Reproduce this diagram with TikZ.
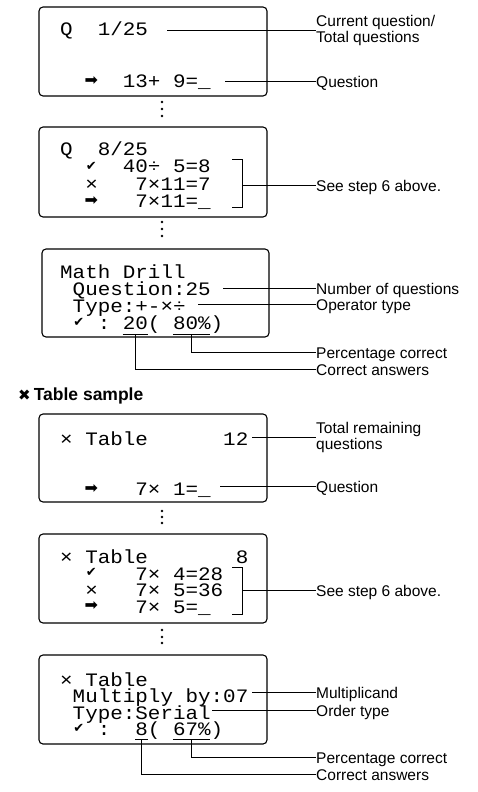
\documentclass[tikz,border=0pt]{standalone}
\usepackage{fontspec}
\setmainfont{Liberation Sans}
\newfontfamily\lcdfont[FakeStretch=1.1]{Liberation Mono}
\newfontfamily\symfont{DejaVu Sans}
\newcommand{\lcdcol}[1]{60+12.54*#1}
\tikzset{
    lcdbox/.style={draw, line width=1.1pt, rounded corners=4pt, inner sep=0pt},
    lcdtext/.style={anchor=base west, inner sep=0pt, text height=12pt, text depth=0pt,
        font=\lcdfont\fontsize{19}{19}\selectfont},
    lcdsym/.style={inner sep=0pt, text height=7pt, text depth=0pt,
        font=\symfont\fontsize{13}{13}\selectfont},
    lcdarrow/.style={inner sep=0pt, text height=7pt, text depth=0pt,
        font=\symfont\fontsize{16}{16}\selectfont},
    lbltext/.style={anchor=west, inner sep=0pt, text height=12pt, text depth=0pt,
        font=\fontsize{15.5}{16}\selectfont},
    lbltwo/.style={anchor=west, inner sep=0pt, align=left,
        font=\fontsize{15.5}{16}\selectfont},
    leader/.style={line width=0.9pt}
}

\begin{document}
\begin{tikzpicture}[x=1pt, y=-1pt]
    \useasboundingbox (0,0) rectangle (478,792);

    % screens
    \node[lcdbox, minimum width=228pt, minimum height=89pt] (scr1) at (153,51.5) {};
    \node[lcdbox, minimum width=228pt, minimum height=90pt] (scr2) at (153,172) {};
    \node[lcdbox, minimum width=227pt, minimum height=88pt] (scr3) at (155.5,293) {};
    \node[lcdbox, minimum width=228pt, minimum height=88pt] (scr4) at (153,458) {};
    \node[lcdbox, minimum width=228pt, minimum height=89pt] (scr5) at (153,578.5) {};
    \node[lcdbox, minimum width=228pt, minimum height=89pt] (scr6) at (153,699.5) {};

    \foreach \y in {102,109,116,222,229,236,511,517,523,630,637,643}
        \fill (162,\y) circle (1.3pt);

    % screen 1
    \node[lcdtext] (r1a) at ({\lcdcol{0}},36) {Q~~1/25};
    \node[lcdarrow] (r1s) at ({\lcdcol{2.5}},82) {➡};
    \node[lcdtext] (r1b) at ({\lcdcol{5}},87) {13+~9=\_};

    % screen 2
    \node[lcdtext] (r2a) at ({\lcdcol{0}},155) {Q~~8/25};
    \node[lcdsym] (r2s) at ({\lcdcol{2.5}},167) {✔};
    \node[lcdtext] (r2b) at ({\lcdcol{5}},172.5) {40÷~5=8};
    \node[lcdtext] (r2c) at ({\lcdcol{2}},190) {×~~~7×11=7};
    \node[lcdarrow] (r2t) at ({\lcdcol{2.5}},202) {➡};
    \node[lcdtext] (r2d) at ({\lcdcol{6}},207.5) {7×11=\_};

    % screen 3
    \node[lcdtext] (r3a) at ({\lcdcol{0}},278) {Math~Drill};
    \node[lcdtext] (r3b) at ({\lcdcol{1}},295) {Question:25};
    \node[lcdtext] (r3c) at ({\lcdcol{1}},312) {Type:+-×÷};
    \node[lcdsym] (r3s) at ({\lcdcol{1.5}},323) {✔};
    \node[lcdtext] (r3d) at ({\lcdcol{3}},329) {:~20(~80\%)};

    \node[anchor=west, inner sep=0pt, font=\bfseries\fontsize{17.5}{18}\selectfont]
        (tblhead) at (18,396) {{\symfont\fontsize{15}{15}\selectfont ✖}\hspace{3pt}Table sample};

    % screen 4
    \node[lcdtext] (r4a) at ({\lcdcol{0}},445) {×~Table~~~~~~12};
    \node[lcdarrow] (r4s) at ({\lcdcol{2.5}},490) {➡};
    \node[lcdtext] (r4b) at ({\lcdcol{6}},495) {7×~1=\_};

    % screen 5
    \node[lcdtext] (r5a) at ({\lcdcol{0}},563) {×~Table~~~~~~~8};
    \node[lcdsym] (r5s) at ({\lcdcol{2.5}},573) {✔};
    \node[lcdtext] (r5b) at ({\lcdcol{6}},580) {7×~4=28};
    \node[lcdtext] (r5c) at ({\lcdcol{2}},596.5) {×~~~7×~5=36};
    \node[lcdarrow] (r5t) at ({\lcdcol{2.5}},607) {➡};
    \node[lcdtext] (r5d) at ({\lcdcol{6}},613) {7×~5=\_};

    % screen 6
    \node[lcdtext] (r6a) at ({\lcdcol{0}},686) {×~Table};
    \node[lcdtext] (r6b) at ({\lcdcol{1}},702.5) {Multiply~by:07};
    \node[lcdtext] (r6c) at ({\lcdcol{1}},719) {Type:Serial};
    \node[lcdsym] (r6s) at ({\lcdcol{1.5}},729) {✔};
    \node[lcdtext] (r6d) at ({\lcdcol{3}},735) {:~~8(~67\%)};

    % labels
    \node[lbltwo] (curq) at (316,30) {Current question/\\Total questions};
    \node[lbltext] (ques1) at (316,81) {Question};
    \node[lbltext] (step1) at (316,185) {See step 6 above.};
    \node[lbltext] (numq) at (316,288) {Number of questions};
    \node[lbltext] (optype) at (316,304) {Operator type};
    \node[lbltext] (pct1) at (316,352) {Percentage correct};
    \node[lbltext] (corr1) at (316,369) {Correct answers};
    \node[lbltwo] (remq) at (316,437) {Total remaining\\questions};
    \node[lbltext] (ques2) at (316,486) {Question};
    \node[lbltext] (step2) at (316,590) {See step 6 above.};
    \node[lbltext] (mult) at (316,692) {Multiplicand};
    \node[lbltext] (ordtype) at (316,710) {Order type};
    \node[lbltext] (pct2) at (316,757) {Percentage correct};
    \node[lbltext] (corr2) at (316,774) {Correct answers};

    % leader start points
    \coordinate (ld1) at (167,30);
    \coordinate (ld2) at (225,81);
    \coordinate (ld3) at (242,185);
    \coordinate (ld4) at (223,288);
    \coordinate (ld5) at (198,304);
    \coordinate (ld6) at ({\lcdcol{10.5}},334);
    \coordinate (ld7) at ({\lcdcol{6}},334);
    \coordinate (ld8) at (252,437);
    \coordinate (ld9) at (220,486);
    \coordinate (ld10) at (242,590);
    \coordinate (ld11) at (252,692);
    \coordinate (ld12) at (212,710);
    \coordinate (ld13) at ({\lcdcol{10.5}},739);
    \coordinate (ld14) at ({\lcdcol{6.5}},739);

    % brackets and underlines
    \draw[leader] (232,159) -- (242,159) -- (242,207) -- (232,207);
    \draw[leader] (232,567) -- (242,567) -- (242,614) -- (232,614);
    \draw[leader] ({\lcdcol{5}},334) -- ({\lcdcol{7}},334);
    \draw[leader] ({\lcdcol{9}},334) -- ({\lcdcol{12}},334);
    \draw[leader] ({\lcdcol{6}},739) -- ({\lcdcol{7}},739);
    \draw[leader] ({\lcdcol{9}},739) -- ({\lcdcol{12}},739);

    \draw[leader] (ld1) -- (curq.west);
    \draw[leader] (ld2) -- (ques1.west);
    \draw[leader] (ld3) -- (step1.west);
    \draw[leader] (ld4) -- (numq.west);
    \draw[leader] (ld5) -- (optype.west);
    \draw[leader] (ld6) |- (pct1.west);
    \draw[leader] (ld7) |- (corr1.west);
    \draw[leader] (ld8) -- (remq.west);
    \draw[leader] (ld9) -- (ques2.west);
    \draw[leader] (ld10) -- (step2.west);
    \draw[leader] (ld11) -- (mult.west);
    \draw[leader] (ld12) -- (ordtype.west);
    \draw[leader] (ld13) |- (pct2.west);
    \draw[leader] (ld14) |- (corr2.west);
\end{tikzpicture}
\end{document}
